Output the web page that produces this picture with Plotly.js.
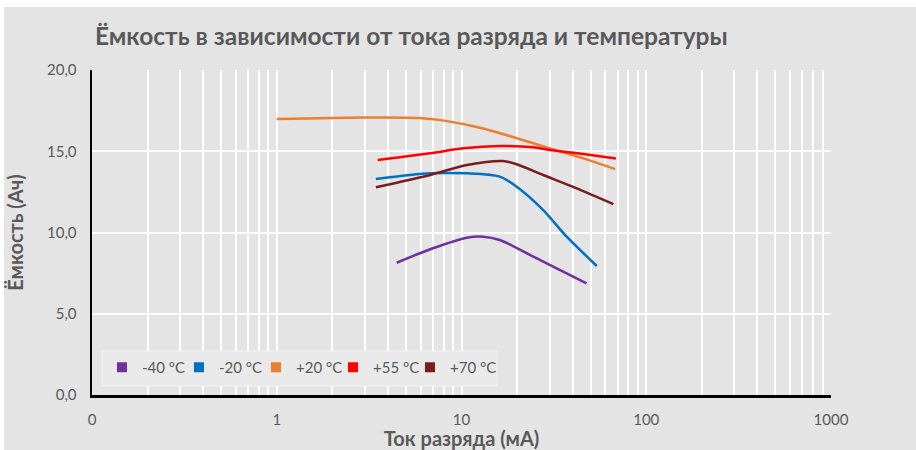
<!DOCTYPE html>
<html>
<head>
<meta charset="utf-8">
<script src="https://cdn.plot.ly/plotly-3.0.1.min.js"></script>
<style>html,body{margin:0;padding:0;background:#fff;}#chart{width:916px;height:450px;}</style>
</head>
<body>
<div id="chart"></div>
<script>
// Data
const seriesNames = ["-40 °C", "-20 °C", "+20 °C", "+55 °C", "+70 °C"];
const seriesColors = ["#7030a0", "#0070c0", "#ed7d31", "#ff0000", "#7b1c1c"];

const xMinus40 = [4.46, 7.0, 10.7, 13.1, 16.1, 24.5, 37.1, 47.5];
const yMinus40 = [8.14, 9.03, 9.68, 9.74, 9.54, 8.51, 7.49, 6.87];

const xMinus20 = [3.44, 6.76, 10.7, 16.1, 19.9, 27.7, 37.1, 54];
const yMinus20 = [13.29, 13.64, 13.64, 13.44, 12.82, 11.38, 9.74, 7.94];

const xPlus20 = [1.0, 2.93, 5.96, 7.9, 13.1, 19.9, 30.1, 45.7, 67.8];
const yPlus20 = [16.98, 17.08, 17.05, 16.9, 16.4, 15.8, 15.18, 14.56, 13.9];

const xPlus55 = [3.52, 6.76, 10.2, 16.1, 24.5, 30, 45.7, 68.5];
const yPlus55 = [14.46, 14.87, 15.18, 15.32, 15.24, 15.08, 14.83, 14.56];

const xPlus70 = [3.44, 6.76, 10.7, 16.8, 19.9, 27.7, 42, 66.4];
const yPlus70 = [12.78, 13.54, 14.15, 14.4, 14.2, 13.54, 12.72, 11.75];

const xTickVals = [0.1, 1, 10, 100, 1000];
const xTickText = ["0", "1", "10", "100", "1000"];
const yTickVals = [0, 5, 10, 15, 20];

const xs = [xMinus40, xMinus20, xPlus20, xPlus55, xPlus70];
const ys = [yMinus40, yMinus20, yPlus20, yPlus55, yPlus70];

const traces = [];
for (let i = 0; i < seriesNames.length; i++) {
  traces.push({
    x: xs[i], y: ys[i], type: "scatter", mode: "lines",
    line: {color: seriesColors[i], width: 2.5, shape: "spline", smoothing: 0.8},
    name: seriesNames[i], showlegend: false, hoverinfo: "skip"
  });
}
for (let i = 0; i < seriesNames.length; i++) {
  traces.push({
    x: [null], y: [null], type: "scatter", mode: "markers",
    marker: {color: seriesColors[i], symbol: "square", size: 10},
    name: seriesNames[i], showlegend: true
  });
}
// invisible spacer entry so the last legend label is not clipped
traces.push({
  x: [null], y: [null], type: "scatter", mode: "markers",
  marker: {color: "rgba(0,0,0,0)", size: 1}, name: " ", showlegend: true
});

const greyText = "#595959";
const L = 92, T = 70, W = 739, H = 325;
const layout = {
  width: 916, height: 450,
  margin: {l: 92, r: 85, t: 70, b: 55},
  paper_bgcolor: "#ffffff",
  plot_bgcolor: "rgba(0,0,0,0)",
  separators: ", ",
  font: {family: "Lato, 'Open Sans', sans-serif", color: greyText, size: 15},
  title: {
    text: "<b>Ёмкость в зависимости от тока разряда и температуры</b>",
    font: {family: "Lato, sans-serif", size: 24.5, color: greyText},
    x: 95/916, xanchor: "left", y: 1 - 36/450, yanchor: "middle"
  },
  shapes: [
    {
      type: "rect", xref: "paper", yref: "paper", layer: "below",
      x0: (4-L)/W, x1: (930-L)/W, y0: (T+H-470)/H, y1: (T+H-7)/H,
      fillcolor: "#e4e4e4", line: {width: 0}
    },
    {
      type: "rect", xref: "paper", yref: "paper", layer: "above",
      x0: (102-L)/W, x1: (497-L)/W, y0: (T+H-386)/H, y1: (T+H-351)/H,
      fillcolor: "#e9e9e9", line: {color: "#f2f2f2", width: 1}
    }
  ],
  xaxis: {
    type: "log", range: [-1, 3],
    tickvals: xTickVals, ticktext: xTickText,
    showgrid: true, gridcolor: "#ffffff", gridwidth: 2,
    minor: {dtick: "D1", showgrid: true, gridcolor: "#ffffff", gridwidth: 2, ticks: ""},
    showline: true, linecolor: "#000000", linewidth: 2.5,
    ticks: "", zeroline: false, ticklabelstandoff: 9,
    tickfont: {size: 15, color: greyText},
    title: {text: "<b>Ток разряда (мА)</b>", font: {size: 20, color: greyText}, standoff: 4}
  },
  yaxis: {
    range: [0, 20], tickvals: yTickVals, tickformat: ".1f",
    showgrid: true, gridcolor: "#ffffff", gridwidth: 2,
    showline: true, linecolor: "#000000", linewidth: 2.5,
    ticks: "", zeroline: false, ticklabelstandoff: 10,
    tickfont: {size: 15, color: greyText},
    title: {text: "<b>Ёмкость (Ач)</b>", font: {size: 20, color: greyText}, standoff: 18}
  },
  legend: {
    orientation: "h", x: (102-L)/W, y: (T+H-351)/H, xanchor: "left", yanchor: "top",
    bgcolor: "rgba(0,0,0,0)", borderwidth: 0,
    font: {size: 15, color: greyText}, itemwidth: 30, entrywidth: 32, tracegroupgap: 0
  }
};

Plotly.newPlot("chart", traces, layout, {displayModeBar: false, staticPlot: true});
</script>
</body>
</html>
